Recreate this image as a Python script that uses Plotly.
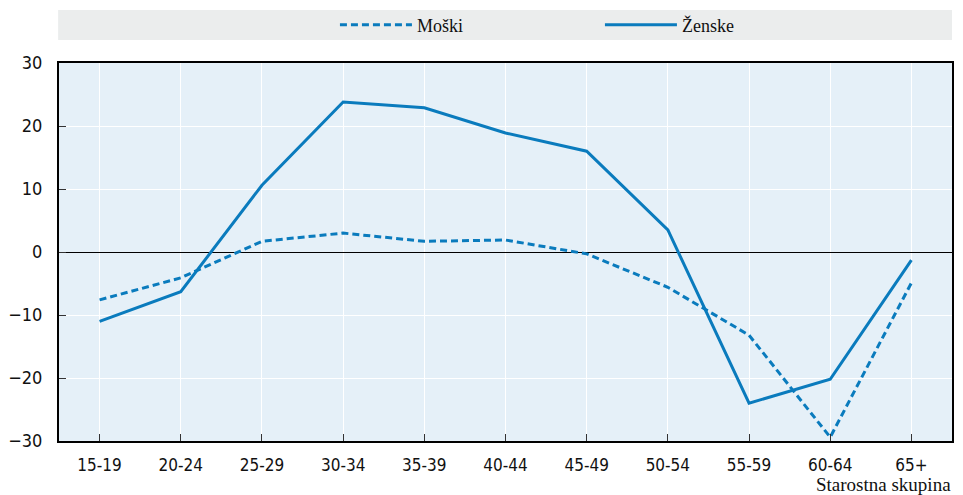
import plotly.graph_objects as go

categories = ["15-19", "20-24", "25-29", "30-34", "35-39", "40-44", "45-49",
              "50-54", "55-59", "60-64", "65+"]
moski = [-7.6, -4.1, 1.7, 3.0, 1.7, 1.9, -0.3, -5.6, -13.2, -29.4, -4.9]
zenske = [-11.0, -6.3, 10.6, 23.8, 22.9, 18.9, 16.0, 3.5, -24.0, -20.2, -1.3]
y_ticks = [-30, -20, -10, 0, 10, 20, 30]

BLUE = "#0a7bbd"
FAM = "Liberation Sans Narrow, DejaVu Sans Condensed, Arial Narrow, sans-serif"
SERIF = "Liberation Serif, Times New Roman, serif"

x_idx = list(range(len(categories)))

fig = go.Figure()
fig.add_trace(go.Scatter(x=x_idx, y=moski, mode="lines", name="Moški",
                         line=dict(color=BLUE, width=3, dash="7px,4px")))
fig.add_trace(go.Scatter(x=x_idx, y=zenske, mode="lines", name="Ženske",
                         line=dict(color=BLUE, width=3)))

fig.add_shape(type="rect", xref="paper", yref="paper", x0=-0.001, x1=1.0,
              y0=(441 - 40) / 378, y1=(441 - 10) / 378,
              fillcolor="#ebeded", line=dict(width=0), layer="below")

fig.add_annotation(text="Starostna skupina", xref="paper", yref="paper",
                   x=1.0, y=-0.1455, xanchor="right", yanchor="bottom", showarrow=False,
                   borderpad=0, font=dict(family=SERIF, size=19, color="#111"))

fig.update_layout(
    width=963, height=495,
    margin=dict(l=59, r=11, t=63, b=54, autoexpand=False),
    paper_bgcolor="white",
    plot_bgcolor="#e5f0f8",
    showlegend=True,
    legend=dict(orientation="h", x=0.309, xanchor="left", y=(441 - 25) / 378, yanchor="middle",
                bgcolor="rgba(0,0,0,0)", itemwidth=72, entrywidth=178,
                entrywidthmode="pixels",
                font=dict(family=SERIF, size=18, color="#111")),
    xaxis=dict(
        tickmode="array", tickvals=x_idx, ticktext=categories,
        range=[-0.5, 10.5], showgrid=True, gridcolor="white", gridwidth=1,
        showline=True, linecolor="black", linewidth=2, mirror=True,
        ticks="inside", ticklen=7, tickcolor="#333", tickwidth=1,
        tickfont=dict(family=FAM, size=17, color="#111"), zeroline=False,
        ticklabelstandoff=8,
    ),
    yaxis=dict(
        tickmode="array", tickvals=y_ticks, range=[-30, 30],
        showgrid=True, gridcolor="white", gridwidth=1,
        showline=True, linecolor="black", linewidth=2, mirror=True,
        ticks="inside", ticklen=7, tickcolor="#333", tickwidth=1,
        tickfont=dict(family=FAM, size=18, color="#111"),
        zeroline=True, zerolinecolor="black", zerolinewidth=1,
        ticklabelstandoff=11,
    ),
)

fig.write_html("out.html", config={"displayModeBar": False},
               post_script="document.body.style.margin='0';document.body.style.overflow='hidden';")
